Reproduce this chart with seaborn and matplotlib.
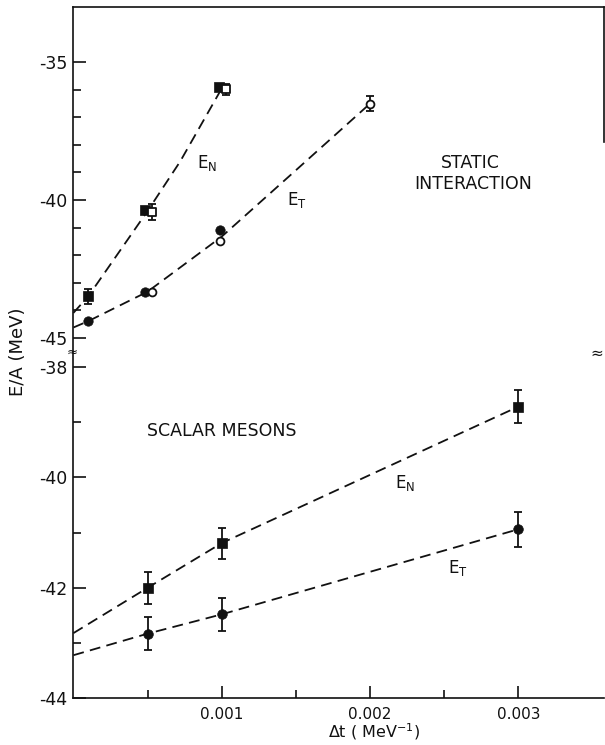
import matplotlib
matplotlib.use("Agg")
import matplotlib.pyplot as plt
import numpy as np
import pandas as pd
import seaborn as sns

# ---------------- data ----------------
# Static interaction (upper panel)
static_en_filled_dt = [0.0001, 0.00048, 0.00098]
static_en_filled_e = [-43.5, -40.37, -35.91]
static_en_filled_err = [0.28, 0.0, 0.0]
static_en_open_dt = [0.00053, 0.00103]
static_en_open_e = [-40.45, -35.98]
static_en_open_err = [0.29, 0.2]
static_et_filled_dt = [0.0001, 0.00048, 0.00099]
static_et_filled_e = [-44.4, -43.33, -41.09]
static_et_open_dt = [0.00053, 0.00099, 0.002]
static_et_open_e = [-43.33, -41.48, -36.5]
static_et_open_err = [0.0, 0.0, 0.27]

# hand-drawn guide curves (upper panel)
static_en_curve_dt = [0.0, 0.0001, 0.0005, 0.00072, 0.001]
static_en_curve_e = [-44.1, -43.5, -40.4, -38.6, -35.95]
static_et_curve_dt = [0.0, 0.0001, 0.0005, 0.001, 0.0015, 0.002]
static_et_curve_e = [-44.63, -44.4, -43.33, -41.33, -38.92, -36.5]

# Scalar mesons (lower panel)
meson_dt = [0.0005, 0.001, 0.003]
meson_en = [-42.0, -41.19, -38.72]
meson_en_err = [0.29, 0.28, 0.3]
meson_et = [-42.83, -42.48, -40.94]
meson_et_err = [0.3, 0.3, 0.32]
meson_en_curve_dt = [0.0, 0.0005, 0.001, 0.003]
meson_en_curve_e = [-42.82, -42.0, -41.19, -38.72]
meson_et_curve_dt = [0.0, 0.0005, 0.001, 0.003]
meson_et_curve_e = [-43.22, -42.83, -42.48, -40.94]

# ticks
x_ticks = [0.001, 0.002, 0.003]
x_tick_labels = ["0.001", "0.002", "0.003"]
x_minor = [0.0005, 0.0015, 0.0025]
top_yticks = [-45, -40, -35]
top_ytick_labels = ["-45", "-40", "-35"]
top_yminor = [-44, -43, -42, -41, -39, -38, -37, -36]
bot_yticks = [-44, -42, -40, -38]
bot_ytick_labels = ["-44", "-42", "-40", "-38"]
bot_yminor = [-43, -41, -39]

# ---------------- style ----------------
sns.set_style("ticks")
plt.rcParams["font.family"] = ["DejaVu Sans"]
plt.rcParams["axes.linewidth"] = 1.2
INK = "#111111"

W, H = 605, 745
fig = plt.figure(figsize=(W / 100, H / 100), dpi=100)
fig.patch.set_facecolor("white")

def fx(px):
    return px / W

def fy(py):
    return 1 - py / H

left, right = 73.4, 604.0
ax_top = fig.add_axes([fx(left), fy(352), fx(right) - fx(left), fy(7) - fy(352)])
ax_bot = fig.add_axes([fx(left), fy(698.3), fx(right) - fx(left), fy(352) - fy(698.3)])

XMAX = 0.003578
for ax in (ax_top, ax_bot):
    ax.set_xlim(0, XMAX)
    ax.set_facecolor("white")
    for s in ax.spines.values():
        s.set_color(INK)
        s.set_linewidth(1.2)
ax_top.set_ylim(-45.52, -32.99)
ax_bot.set_ylim(-44.0, -37.73)

DASH = (0, (6, 3.5))

def curve(ax, xs, ys):
    sns.lineplot(x=xs, y=ys, ax=ax, color=INK, linewidth=1.3, sort=False,
                 estimator=None, linestyle=DASH, zorder=1)

def errs(ax, xs, ys, es):
    d = pd.DataFrame({"x": xs, "y": ys, "e": es})
    d = d[d["e"] > 0]
    if len(d):
        ax.errorbar(d["x"], d["y"], yerr=d["e"], fmt="none", ecolor=INK,
                    elinewidth=1.3, capsize=2.6, capthick=1.3, zorder=2)

def pts(ax, xs, ys, marker, filled, size):
    if filled:
        sns.scatterplot(x=xs, y=ys, ax=ax, marker=marker, s=size, color=INK,
                        edgecolor=INK, linewidth=0.5, zorder=3)
    else:
        sns.scatterplot(x=xs, y=ys, ax=ax, marker=marker, s=size, color="white",
                        edgecolor=INK, linewidth=1.3, zorder=4)

# upper panel
curve(ax_top, static_en_curve_dt, static_en_curve_e)
curve(ax_top, static_et_curve_dt, static_et_curve_e)
errs(ax_top, static_en_filled_dt, static_en_filled_e, static_en_filled_err)
errs(ax_top, static_en_open_dt, static_en_open_e, static_en_open_err)
errs(ax_top, static_et_open_dt, static_et_open_e, static_et_open_err)
pts(ax_top, static_en_filled_dt, static_en_filled_e, "s", True, 52)
pts(ax_top, static_en_open_dt, static_en_open_e, "s", False, 34)
pts(ax_top, static_et_filled_dt, static_et_filled_e, "o", True, 46)
pts(ax_top, static_et_open_dt, static_et_open_e, "o", False, 32)

# lower panel
curve(ax_bot, meson_en_curve_dt, meson_en_curve_e)
curve(ax_bot, meson_et_curve_dt, meson_et_curve_e)
errs(ax_bot, meson_dt, meson_en, meson_en_err)
errs(ax_bot, meson_dt, meson_et, meson_et_err)
pts(ax_bot, meson_dt, meson_en, "s", True, 52)
pts(ax_bot, meson_dt, meson_et, "o", True, 48)

# spines
ax_top.spines["bottom"].set_visible(False)
ax_top.spines["right"].set_bounds(-37.9, -32.99)
ax_bot.spines["top"].set_visible(False)
ax_bot.spines["right"].set_visible(False)

# ticks
ax_top.set_xticks([])
ax_top.tick_params(axis="x", which="both", bottom=False, top=False, labelbottom=False)
ax_top.set_yticks(top_yticks, top_ytick_labels)
ax_top.set_yticks(top_yminor, minor=True)
ax_bot.set_yticks(bot_yticks, bot_ytick_labels)
ax_bot.set_yticks(bot_yminor, minor=True)
ax_bot.set_xticks(x_ticks, x_tick_labels)
ax_bot.set_xticks(x_minor, minor=True)
for ax in (ax_top, ax_bot):
    ax.tick_params(axis="y", which="major", direction="in", length=9, width=1.2,
                   labelsize=12.5, pad=4.5, colors=INK, right=False)
    ax.tick_params(axis="y", which="minor", direction="in", length=6, width=1.2,
                   colors=INK, right=False)
    ax.set_xlabel("")
    ax.set_ylabel("")
ax_bot.tick_params(axis="x", which="major", direction="in", length=9, width=1.2,
                   labelsize=11, pad=6, colors=INK, top=False)
ax_bot.tick_params(axis="x", which="minor", direction="in", length=6, width=1.2,
                   colors=INK, top=False)

# annotations
lab = dict(color=INK, fontsize=12)
fig.text(fx(197), fy(168), r"$\mathregular{E_N}$", ha="left", va="baseline", **lab)
fig.text(fx(287), fy(205), r"$\mathregular{E_T}$", ha="left", va="baseline", **lab)
fig.text(fx(395), fy(488), r"$\mathregular{E_N}$", ha="left", va="baseline", **lab)
fig.text(fx(448), fy(573), r"$\mathregular{E_T}$", ha="left", va="baseline", **lab)
fig.text(fx(470), fy(168), "STATIC", ha="center", va="baseline", color=INK, fontsize=12.5)
fig.text(fx(473), fy(189), "INTERACTION", ha="center", va="baseline", color=INK, fontsize=12.5)
fig.text(fx(147), fy(436), "SCALAR MESONS", ha="left", va="baseline", color=INK, fontsize=12.5)

fig.text(fx(18.5), fy(352), "E/A (MeV)", rotation=90, ha="center", va="center",
         color=INK, fontsize=13)
fig.text(fx(374), fy(742), r"$\Delta$t ( MeV$^{-1}$)", ha="center", va="bottom",
         color=INK, fontsize=11.5)

# axis-break marks
fig.text(fx(72), fy(352), "≈", ha="center", va="center", color=INK, fontsize=9.5)
fig.text(fx(597), fy(353), "≈", ha="center", va="center", color=INK, fontsize=11)

fig.savefig("out.png", dpi=100, facecolor="white")
